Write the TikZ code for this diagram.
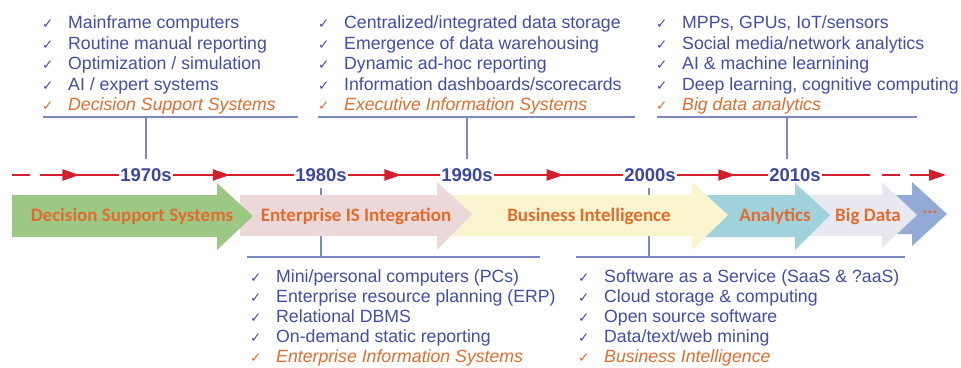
\documentclass[tikz,border=0pt]{standalone}
\usepackage{fontspec}
\setmainfont{Liberation Sans}
\newfontfamily\carlito{Carlito}
\newfontfamily\dejavu{DejaVu Sans}
\usetikzlibrary{arrows.meta,decorations.markings}

\definecolor{listblue}{RGB}{66,78,166}
\definecolor{yearblue}{RGB}{60,72,160}
\definecolor{accent}{RGB}{226,108,46}
\definecolor{rulecol}{RGB}{124,136,196}
\definecolor{timered}{RGB}{212,32,44}
\definecolor{dssgreen}{RGB}{156,200,132}
\definecolor{eispink}{RGB}{236,216,216}
\definecolor{biyellow}{RGB}{250,245,206}
\definecolor{anteal}{RGB}{160,210,220}
\definecolor{bdgray}{RGB}{232,232,240}
\definecolor{moreblue}{RGB}{146,170,214}

\newcommand{\chk}{\makebox[26pt][l]{\dejavu\fontsize{13.5}{13}\selectfont ✓}}

\tikzset{
  items/.style={anchor=north west, inner sep=0pt, align=left, text=listblue,
    font=\fontsize{17.7}{20.5}\selectfont},
  year/.style={inner sep=1pt, text=yearblue, font=\fontsize{18.5}{20}\selectfont\bfseries},
  band/.style={inner sep=0pt, text=accent, font=\carlito\fontsize{19}{20}\selectfont\bfseries},
  rule/.style={draw=rulecol, line width=1.4pt},
  timeline/.style={draw=timered, line width=2.2pt},
  midtip/.style={postaction={decorate}, decoration={markings,
    mark=at position #1 with {\arrow[timered]{Triangle[length=17pt,width=11pt]}}}}
}

\begin{document}
\begin{tikzpicture}[x=1pt,y=-1pt]
    \useasboundingbox (0,0) rectangle (961,367);

    % item lists above and below the time line
    \node[items] (list70) at (42,15.5) {\chk Mainframe computers\\ \chk Routine manual reporting\\
      \chk Optimization / simulation\\ \chk AI / expert systems\\
      {\color{accent}\chk\itshape Decision Support Systems}};
    \node[items] (list90) at (318,15.5) {\chk Centralized/integrated data storage\\
      \chk Emergence of data warehousing\\ \chk Dynamic ad-hoc reporting\\
      \chk Information dashboards/scorecards\\
      {\color{accent}\chk\itshape Executive Information Systems}};
    \node[items] (list10) at (656,15.5) {\chk MPPs, GPUs, IoT/sensors\\
      \chk Social media/network analytics\\ \chk AI \& machine learnining\\
      \chk Deep learning, cognitive computing\\
      {\color{accent}\chk\itshape Big data analytics}};
    \node[items, font=\fontsize{17.7}{20.2}\selectfont] (list80) at (250,269) {\chk Mini/personal computers (PCs)\\
      \chk Enterprise resource planning (ERP)\\ \chk Relational DBMS\\
      \chk On-demand static reporting\\
      {\color{accent}\chk\itshape Enterprise Information Systems}};
    \node[items, font=\fontsize{17.7}{20.2}\selectfont] (list00) at (578,269) {\chk Software as a Service (SaaS \& ?aaS)\\
      \chk Cloud storage \& computing\\ \chk Open source software\\
      \chk Data/text/web mining\\
      {\color{accent}\chk\itshape Business Intelligence}};

    % decades
    \node[year] (y70) at (146,175) {1970s};
    \node[year] (y80) at (321,175) {1980s};
    \node[year] (y90) at (467,175) {1990s};
    \node[year] (y00) at (650,175) {2000s};
    \node[year] (y10) at (795,175) {2010s};
    \coordinate (tl0) at (12,175);
    \coordinate (tl1) at (946,175);

    % rules under and over the lists
    \draw[rule] (43,117) -- (298,117);
    \draw[rule] (318,117) -- (635,117);
    \draw[rule] (657,117) -- (917,117);
    \draw[rule] (247,257) -- (540,257);
    \draw[rule] (576,257) -- (905,257);
    \coordinate (t70) at (146,117);
    \coordinate (t90) at (467,117);
    \coordinate (t10) at (787,117);
    \coordinate (b80) at (321,257);
    \coordinate (b00) at (649,257);
    \draw[rule, shorten >=8pt] (t70) -- (t70 |- y70.north);
    \draw[rule, shorten >=8pt] (t90) -- (t90 |- y90.north);
    \draw[rule, shorten >=8pt] (t10) -- (t10 |- y10.north);
    \draw[rule, shorten <=5pt] (b80 |- y80.south) -- (b80);
    \draw[rule, shorten <=5pt] (b00 |- y00.south) -- (b00);

    % time line
    \draw[timeline, dash pattern=on 18pt off 10pt on 200pt, midtip=0.63] (tl0) -- (y70);
    \draw[timeline, midtip=0.47] (y70) -- (y80);
    \draw[timeline, midtip=0.58] (y80) -- (y90);
    \draw[timeline, midtip=0.54] (y90) -- (y00);
    \draw[timeline, midtip=0.64] (y00) -- (y10);
    \draw[timeline, dash pattern=on 48pt off 12pt on 18pt off 10pt on 60pt,
      -{Triangle[length=17pt,width=11pt]}] (y10) -- (tl1);

    % era arrows, right one first
    \fill[moreblue] (890,195) -- (912,195) -- (912,182) -- (947,214) -- (912,246) -- (912,234) -- (890,234) -- cycle;
    \fill[bdgray] (800,195) -- (882,195) -- (882,182) -- (917,215) -- (882,248) -- (882,236) -- (800,236) -- cycle;
    \fill[anteal] (700,195) -- (795,195) -- (795,183) -- (830,215) -- (795,250) -- (795,237) -- (700,237) -- cycle;
    \fill[biyellow] (450,195) -- (692,195) -- (692,182) -- (728,215) -- (692,250) -- (692,236) -- (450,236) -- cycle;
    \fill[eispink] (240,195) -- (437,195) -- (437,182) -- (472,214) -- (437,250) -- (437,236) -- (240,236) -- cycle;
    \fill[dssgreen] (12,195) -- (217,195) -- (217,183) -- (253,216) -- (217,250) -- (217,237) -- (12,237) -- cycle;

    \node[band] (bDSS) at (132,216) {Decision Support Systems};
    \node[band] (bEIS) at (356,216) {Enterprise IS Integration};
    \node[band] (bBI) at (589,216) {Business Intelligence};
    \node[band] (bAn) at (775,216) {Analytics};
    \node[band] (bBD) at (868,216) {Big Data};
    \node[band] (bMore) at (930,212) {...};
\end{tikzpicture}
\end{document}
